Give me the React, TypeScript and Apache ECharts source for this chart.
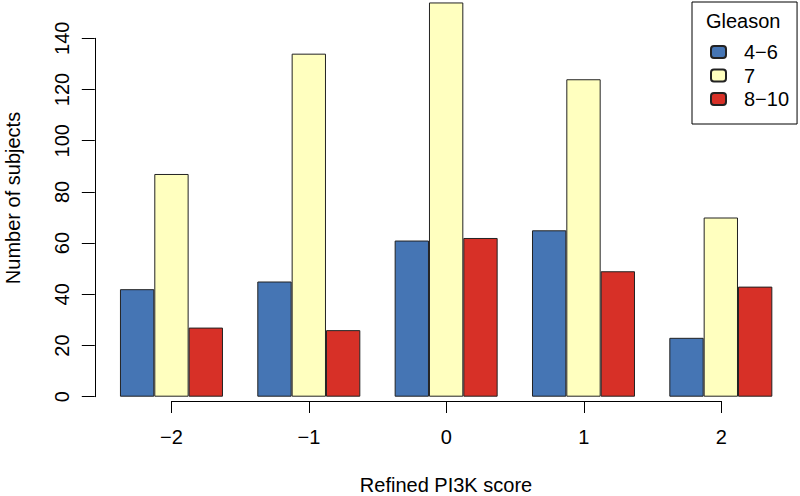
import React, { useEffect, useRef } from "react";
import * as echarts from "echarts";

const scoreLabels = ["\u22122", "\u22121", "0", "1", "2"];
const seriesNames = ["4\u22126", "7", "8\u221210"];
const gleason46 = [42, 45, 61, 65, 23];
const gleason7 = [87, 134, 154, 124, 70];
const gleason810 = [27, 26, 62, 49, 43];
const seriesColors = ["#4575B4", "#FFFFBF", "#D73027"];

const FONT = "'Liberation Sans', Arial, Helvetica, sans-serif";
const FS = 20;

export default function App() {
  const ref = useRef<HTMLDivElement>(null);
  useEffect(() => {
    if (!ref.current) return;
    const chart = echarts.init(ref.current, undefined, { renderer: "svg" });
    const values = [gleason46, gleason7, gleason810];
    chart.setOption({
      animation: false,
      backgroundColor: "#fff",
      textStyle: { fontFamily: FONT, color: "#000" },
      grid: [
        { left: 102.8, right: 10.5, top: 38.3, bottom: 99.3 },
        { left: 171.5, right: 78.7, top: 300, bottom: 95 },
      ],
      xAxis: [
        {
          type: "category",
          gridIndex: 0,
          data: scoreLabels,
          axisLine: { show: false },
          axisTick: { show: false },
          axisLabel: { show: false },
        },
        {
          type: "category",
          gridIndex: 1,
          data: scoreLabels,
          boundaryGap: false,
          axisLine: { show: true, lineStyle: { color: "#000", width: 1 } },
          axisTick: { show: true, length: 12, inside: false, alignWithLabel: true, lineStyle: { color: "#000" } },
          axisLabel: { show: true, fontSize: FS, fontFamily: FONT, color: "#000", margin: 26 },
          splitLine: { show: false },
        },
      ],
      yAxis: [
        {
          type: "value",
          gridIndex: 0,
          min: 0,
          max: 140,
          interval: 20,
          offset: 8,
          axisLine: { show: true, lineStyle: { color: "#000", width: 1 } },
          axisTick: { show: true, length: 13, inside: false, lineStyle: { color: "#000" } },
          axisLabel: { show: true, rotate: 90, fontSize: FS, fontFamily: FONT, color: "#000", margin: 23 },
          splitLine: { show: false },
        },
        {
          type: "value",
          gridIndex: 1,
          show: false,
          min: 0,
          max: 1,
        },
      ],
      legend: {
        orient: "vertical",
        left: 692,
        top: 2,
        padding: [40, 8, 15, 18],
        itemWidth: 15,
        itemHeight: 12,
        itemGap: 3.5,
        borderColor: "#000",
        borderWidth: 1,
        backgroundColor: "#fff",
        textStyle: { fontSize: FS, fontFamily: FONT, color: "#000", lineHeight: 20, padding: [0, 0, 0, 13] },
        data: seriesNames,
      },
      graphic: [
        {
          type: "text",
          x: 12.5,
          y: 198,
          rotation: Math.PI / 2,
          style: {
            text: "Number of subjects",
            font: `${FS}px ${FONT}`,
            fill: "#000",
            align: "center",
            verticalAlign: "middle",
            textAlign: "center",
            textVerticalAlign: "middle",
          },
        },
        {
          type: "text",
          x: 446,
          y: 485,
          style: {
            text: "Refined PI3K score",
            font: `${FS}px ${FONT}`,
            fill: "#000",
            align: "center",
            verticalAlign: "middle",
            textAlign: "center",
            textVerticalAlign: "middle",
          },
        },
        {
          type: "text",
          x: 706,
          y: 21,
          z: 100,
          style: {
            text: "Gleason",
            font: `${FS}px ${FONT}`,
            fill: "#000",
            align: "left",
            verticalAlign: "middle",
            textAlign: "left",
            textVerticalAlign: "middle",
          },
        },
      ],
      series: seriesNames.map((name, i) => ({
        name,
        type: "bar",
        xAxisIndex: 0,
        yAxisIndex: 0,
        data: values[i],
        barGap: "0%",
        barCategoryGap: "25%",
        clip: false,
        itemStyle: { color: seriesColors[i], borderColor: "#222", borderWidth: 1 },
      })),
    });
    return () => chart.dispose();
  }, []);
  return (
    <div
      ref={ref}
      style={{ position: "absolute", left: 0, top: 0, width: 800, height: 496 }}
    />
  );
}
